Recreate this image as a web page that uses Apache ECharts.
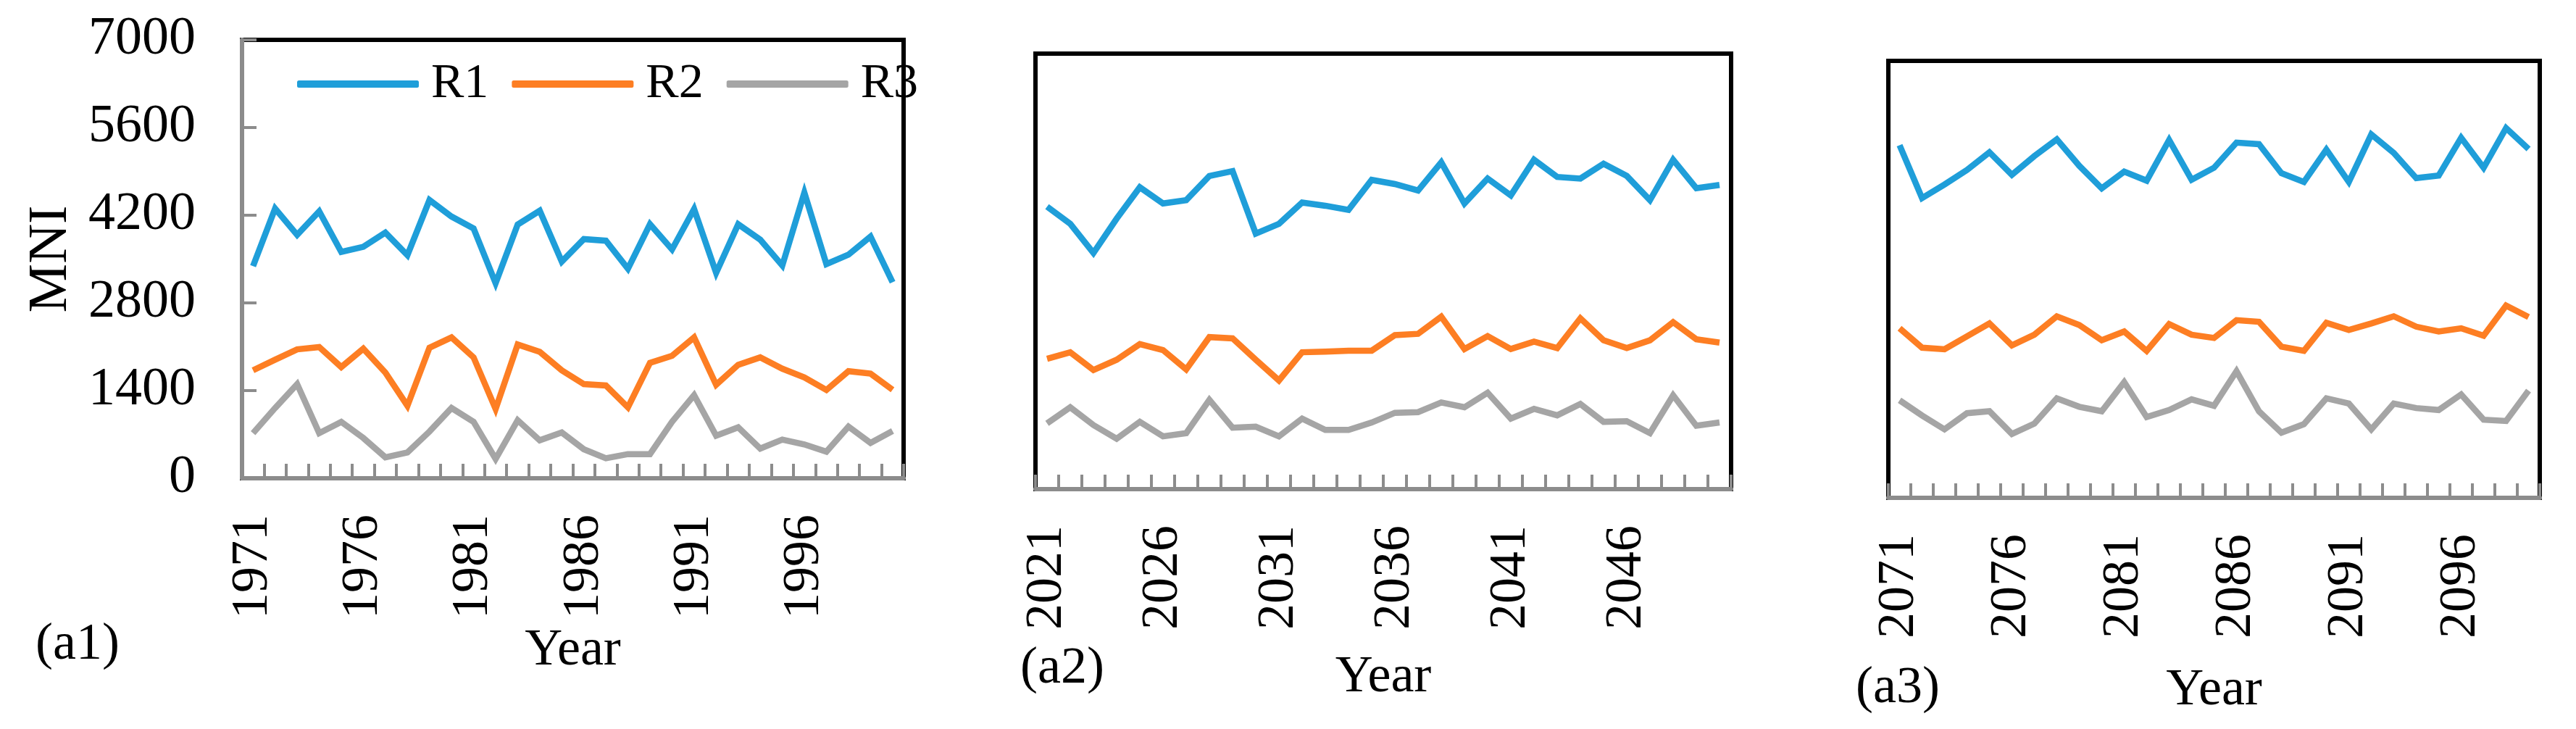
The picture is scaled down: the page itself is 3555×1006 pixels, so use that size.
<!DOCTYPE html>
<html>
<head>
<meta charset="utf-8">
<script src="https://cdn.jsdelivr.net/npm/echarts@6/dist/echarts.min.js"></script>
<style>
html,body{margin:0;padding:0;background:#fff;}
#chart{width:3555px;height:1006px;}
</style>
</head>
<body>
<div id="chart"></div>
<script>
// ---- Data ----
const years1 = ['1971','1972','1973','1974','1975','1976','1977','1978','1979','1980','1981','1982','1983','1984','1985','1986','1987','1988','1989','1990','1991','1992','1993','1994','1995','1996','1997','1998','1999','2000'];
const years2 = ['2021','2022','2023','2024','2025','2026','2027','2028','2029','2030','2031','2032','2033','2034','2035','2036','2037','2038','2039','2040','2041','2042','2043','2044','2045','2046','2047','2048','2049','2050'];
const years3 = ['2071','2072','2073','2074','2075','2076','2077','2078','2079','2080','2081','2082','2083','2084','2085','2086','2087','2088','2089','2090','2091','2092','2093','2094','2095','2096','2097','2098','2099'];

const a1R1 = [3387,4308,3886,4262,3613,3696,3922,3562,4442,4179,3989,3114,4051,4272,3459,3819,3793,3346,4056,3654,4298,3279,4056,3809,3397,4560,3420,3570,3860,3130];
const a1R2 = [1724,1894,2059,2095,1776,2069,1688,1158,2085,2249,1930,1107,2136,2018,1724,1503,1482,1132,1843,1956,2249,1493,1812,1930,1750,1610,1410,1710,1672,1413];
const a1R3 = [721,1122,1503,721,901,643,335,412,746,1122,901,309,926,607,731,463,319,386,386,901,1328,679,813,474,618,540,425,825,565,754];

const a2R1 = [4540,4264,3796,4347,4852,4592,4644,5034,5112,4108,4264,4607,4555,4488,4971,4904,4800,5252,4592,4992,4722,5294,5018,4992,5231,5034,4644,5294,4836,4888];
const a2R2 = [2096,2200,1914,2080,2330,2236,1924,2444,2423,2080,1747,2200,2210,2226,2226,2475,2496,2772,2252,2460,2252,2371,2267,2746,2392,2267,2392,2683,2408,2356];
const a2R3 = [1056,1316,1030,811,1082,848,900,1435,988,1004,848,1134,952,952,1071,1227,1238,1394,1316,1550,1134,1290,1186,1368,1082,1092,900,1508,1019,1071];

const a3R1 = [5650,4802,5019,5252,5536,5174,5474,5743,5319,4957,5226,5081,5733,5096,5288,5691,5666,5200,5060,5578,5060,5821,5526,5122,5164,5769,5288,5924,5588];
const a3R2 = [2716,2406,2380,2587,2794,2442,2613,2908,2768,2525,2665,2354,2784,2613,2561,2846,2820,2421,2354,2804,2690,2794,2908,2742,2665,2716,2597,3079,2897];
const a3R3 = [1563,1319,1097,1356,1387,1024,1190,1594,1459,1387,1852,1294,1407,1578,1475,2028,1387,1045,1180,1594,1511,1097,1511,1438,1407,1656,1252,1231,1718];

const seriesNames = ['R1','R2','R3'];
const panelLabels = ['(a1)','(a2)','(a3)'];
const yTicks = {min: 0, max: 7000, interval: 1400};

// ---- Styling ----
const FONT = "'Liberation Serif', 'Times New Roman', serif";
const COLORS = ['#1f9ed9', '#fd7e23', '#a5a5a5'];
const AXIS_GRAY = '#8c8c8c';

const grids = [
  {left: 334, top: 55, width: 913, height: 605},
  {left: 1429, top: 74, width: 960, height: 601},
  {left: 2606, top: 84, width: 899, height: 603}
];
const cats = [years1, years2, years3];
const data = [[a1R1, a1R2, a1R3], [a2R1, a2R2, a2R3], [a3R1, a3R2, a3R3]];
const yearGaps = [238, 260, 266];

const xAxes = cats.map((c, i) => ({
  type: 'category', gridIndex: i, data: c, boundaryGap: true,
  axisLine: {show: true, lineStyle: {color: AXIS_GRAY, width: 6}},
  axisTick: {show: true, inside: true, length: 20, interval: 0, lineStyle: {color: AXIS_GRAY, width: 4}},
  axisLabel: {show: true, interval: 4, rotate: 90, margin: 50, color: '#000', fontFamily: FONT, fontSize: 72},
  splitLine: {show: false},
  name: 'Year', nameLocation: 'middle', nameGap: yearGaps[i],
  nameTextStyle: {color: '#000', fontFamily: FONT, fontSize: 72, verticalAlign: 'middle'}
}));

const yAxes = cats.map((c, i) => ({
  type: 'value', gridIndex: i, min: yTicks.min, max: yTicks.max, interval: yTicks.interval,
  axisLine: {show: i === 0, lineStyle: {color: AXIS_GRAY, width: 6}},
  axisTick: {show: i === 0, inside: true, length: 20, lineStyle: {color: AXIS_GRAY, width: 4}},
  axisLabel: {show: i === 0, margin: 64, color: '#000', fontFamily: FONT, fontSize: 74,
              formatter: v => String(v)},
  splitLine: {show: false},
  name: i === 0 ? 'MNI' : '', nameLocation: 'middle', nameGap: 263, nameRotate: 90,
  nameTextStyle: {color: '#000', fontFamily: FONT, fontSize: 76, verticalAlign: 'middle'}
}));

const series = [];
data.forEach((panel, p) => {
  panel.forEach((vals, s) => {
    series.push({
      name: seriesNames[s], type: 'line', xAxisIndex: p, yAxisIndex: p,
      data: vals, symbol: 'none', smooth: false,
      lineStyle: {color: COLORS[s], width: 8.5, join: 'miter'},
      itemStyle: {color: COLORS[s]}
    });
  });
});

const labelPos = [[107, 890], [1466, 923], [2619, 950]];
const graphics = panelLabels.map((t, i) => ({
  type: 'text', x: labelPos[i][0], y: labelPos[i][1],
  style: {text: t, fill: '#000', font: '72px ' + FONT, align: 'center', verticalAlign: 'middle'}
}));

const option = {
  animation: false,
  backgroundColor: '#fff',
  grid: grids.map(g => Object.assign({show: true, borderColor: '#000', borderWidth: 6, backgroundColor: 'transparent', containLabel: false}, g)),
  xAxis: xAxes,
  yAxis: yAxes,
  legend: {
    data: seriesNames, left: 405, top: 77, icon: 'roundRect',
    itemWidth: 168, itemHeight: 10, itemGap: 32,
    textStyle: {color: '#000', fontFamily: FONT, fontSize: 68, padding: [0, 0, 0, 12]}
  },
  series: series,
  graphic: graphics
};

const chart = echarts.init(document.getElementById('chart'), null, {renderer: 'canvas'});
chart.setOption(option);
</script>
</body>
</html>
